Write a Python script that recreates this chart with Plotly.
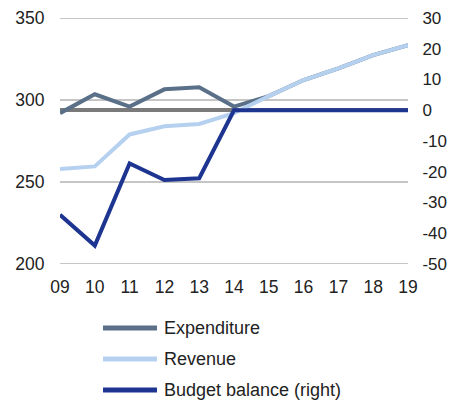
import plotly.graph_objects as go

years = ["09", "10", "11", "12", "13", "14", "15", "16", "17", "18", "19"]
expenditure = [292, 303.5, 296, 306.5, 307.7, 296, 302.4, 312.2, 319.3, 327.4, 333.5]
revenue = [258, 259.5, 279, 284, 285.4, 292, 302.4, 312.2, 319.3, 327.4, 333.5]
budget_balance = [-34, -44, -17.3, -22.7, -22.1, 0, 0, 0, 0, 0, 0]

left_ticks = [200, 250, 300, 350]
right_ticks = [-50, -40, -30, -20, -10, 0, 10, 20, 30]
right_tick_labels = ["-50", "-40", "-30", "-20", "-10", "0", "10", "20", "30"]

series_names = ["Expenditure", "Revenue", "Budget balance (right)"]
series_colors = ["#5a7088", "#b6d1ef", "#1d3590"]

FONT = "Liberation Sans, Arial, sans-serif"

fig = go.Figure()
fig.add_trace(go.Scatter(x=years, y=expenditure, name=series_names[0], mode="lines",
                         line=dict(color=series_colors[0], width=4)))
fig.add_trace(go.Scatter(x=years, y=revenue, name=series_names[1], mode="lines",
                         line=dict(color=series_colors[1], width=4)))
fig.add_trace(go.Scatter(x=years, y=budget_balance, name=series_names[2], mode="lines",
                         line=dict(color=series_colors[2], width=4), yaxis="y2"))

shapes = []
# horizontal gridlines at left-axis ticks
for v in left_ticks:
    shapes.append(dict(type="line", xref="paper", yref="y", x0=0, x1=1, y0=v, y1=v,
                       line=dict(color="#8c8c8c", width=1), layer="below"))

# manual legend (long line symbols like the reference)
annotations = []
legend_rows = [-0.2602, -0.3862, -0.5122]
for name, color, ry in zip(series_names, series_colors, legend_rows):
    shapes.append(dict(type="line", xref="paper", yref="paper", x0=0.1236, x1=0.2787,
                       y0=ry, y1=ry, line=dict(color=color, width=5)))
    annotations.append(dict(xref="paper", yref="paper", x=0.2931, y=ry, text=name,
                            showarrow=False, xanchor="left", yanchor="middle",
                            font=dict(size=18, color="#222", family=FONT)))

fig.update_layout(
    width=452, height=401,
    margin=dict(l=60, r=44, t=18, b=137),
    plot_bgcolor="white", paper_bgcolor="white",
    font=dict(family=FONT, size=17.5, color="#222"),
    xaxis=dict(type="category", range=[0, 10], showgrid=False, zeroline=False,
               showline=False, ticks="outside", ticklen=7, tickcolor="rgba(0,0,0,0)",
               automargin=False),
    yaxis=dict(range=[200, 350], tickvals=left_ticks, showgrid=False,
               zeroline=False, ticks="outside", ticklen=11, tickcolor="rgba(0,0,0,0)",
               automargin=False),
    yaxis2=dict(range=[-50, 30], tickvals=right_ticks, ticktext=right_tick_labels,
                overlaying="y", side="right",
                showgrid=False, zeroline=True, zerolinecolor="#7a7a7a", zerolinewidth=4,
                ticks="outside", ticklen=10, tickcolor="rgba(0,0,0,0)", automargin=False,
                tickfont=dict(size=17)),
    showlegend=False,
    shapes=shapes,
    annotations=annotations,
)

fig.write_html("out.html",
               config={"displayModeBar": False},
               post_script="document.body.style.margin='0';document.body.style.overflow='hidden';")
